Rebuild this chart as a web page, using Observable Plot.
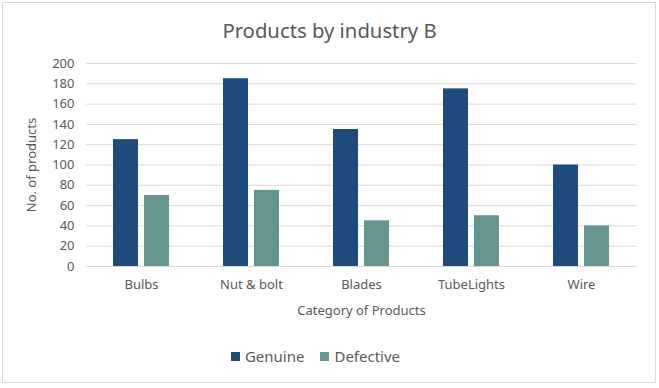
<!DOCTYPE html>
<html>
<head>
<meta charset="utf-8">
<script src="https://cdn.jsdelivr.net/npm/d3@7"></script>
<script src="https://cdn.jsdelivr.net/npm/@observablehq/plot@0.6"></script>
<style>
  html, body { margin: 0; padding: 0; background: #fff; }
  #wrap { position: relative; width: 659px; height: 388px; font-family: "Noto Sans", sans-serif; color: #595959; overflow: hidden; }
  #frame { position: absolute; left: 2px; top: 2px; width: 652px; height: 379px; border: 1px solid #d9d9d9; }
  #title { position: absolute; left: 0; width: 659px; top: 16px; text-align: center; font-size: 20.3px; color: #595959; }
  #chart { position: absolute; left: 0; top: 0; }
  #legend { position: absolute; left: -14px; width: 659px; top: 346px; display: flex; justify-content: center; gap: 16px; font-size: 15px; color: #595959; }
  .item { display: flex; align-items: center; gap: 5px; }
  .sw { width: 9px; height: 9px; display: inline-block; }
</style>
</head>
<body>
<div id="wrap">
  <div id="frame"></div>
  <div id="chart"></div>
  <div id="title">Products by industry B</div>
  <div id="legend"></div>
</div>
<script>
const categories = ["Bulbs", "Nut & bolt", "Blades", "TubeLights", "Wire"];
const seriesNames = ["Genuine", "Defective"];
const genuine = [125, 185, 135, 175, 100];
const defective = [70, 75, 45, 50, 40];
const colors = ["#1f4a7c", "#64958f"];
const yTicks = [0, 20, 40, 60, 80, 100, 120, 140, 160, 180, 200];

const data = [];
categories.forEach((c, i) => {
  data.push({category: c, series: "Genuine", value: genuine[i]});
  data.push({category: c, series: "Defective", value: defective[i]});
});

const chart = Plot.plot({
  width: 659,
  height: 388,
  marginTop: 63,
  marginBottom: 122,
  marginLeft: 84,
  marginRight: 21,
  style: {fontFamily: "Noto Sans, sans-serif", fontSize: "13px", color: "#595959", background: "transparent"},
  fx: {domain: categories, paddingInner: 0, paddingOuter: 0, label: "Category of Products", labelArrow: "none", labelAnchor: "center", labelOffset: 48, tickSize: 0, tickPadding: 13, axis: "bottom"},
  x: {domain: seriesNames, paddingInner: 0.2, paddingOuter: 0.865, axis: null},
  y: {domain: [0, 200], ticks: yTicks, label: "No. of products", labelArrow: "none", labelAnchor: "center", labelOffset: 60, tickSize: 0, tickPadding: 12},
  color: {domain: seriesNames, range: colors},
  marks: [
    Plot.gridY(yTicks, {stroke: "#d9d9d9", strokeOpacity: 1, strokeWidth: 1}),
    Plot.barY(data, {fx: "category", x: "series", y: "value", fill: "series"})
  ]
});
document.getElementById("chart").appendChild(chart);

const legend = document.getElementById("legend");
seriesNames.forEach((s, i) => {
  const item = document.createElement("div");
  item.className = "item";
  const sw = document.createElement("span");
  sw.className = "sw";
  sw.style.background = colors[i];
  const t = document.createElement("span");
  t.textContent = s;
  item.appendChild(sw);
  item.appendChild(t);
  legend.appendChild(item);
});
</script>
</body>
</html>
